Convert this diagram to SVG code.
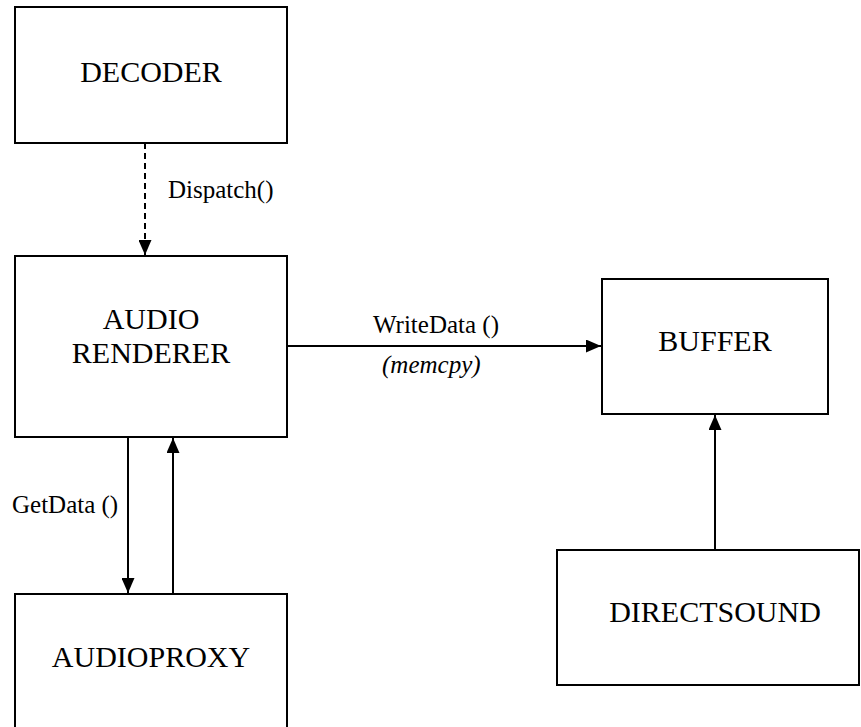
<svg xmlns="http://www.w3.org/2000/svg" width="861" height="727" viewBox="0 0 861 727">
<style>
.box{fill:#fff;stroke:#000;stroke-width:2}
.nt{font-family:"Liberation Serif","Times New Roman",serif;font-size:30px;fill:#000;text-anchor:middle}
.lb{font-family:"Liberation Serif","Times New Roman",serif;font-size:25px;fill:#000}
.ln{fill:none;stroke:#000;stroke-width:2}
</style>
<defs>
<marker id="ah" viewBox="0 0 15 13" refX="15" refY="6.5" markerWidth="15" markerHeight="13" markerUnits="userSpaceOnUse" orient="auto">
<path d="M0,0 L15,6.5 L0,13 Z" fill="#000"/>
</marker>
</defs>
<rect width="861" height="727" fill="#fff"/>
<g id="decoder">
<rect class="box" x="15" y="7" width="272" height="136"/>
<text class="nt" x="151" y="82">DECODER</text>
</g>
<g id="audio-renderer">
<rect class="box" x="15" y="256" width="272" height="181"/>
<text class="nt" x="151" y="329">AUDIO</text>
<text class="nt" x="151" y="363">RENDERER</text>
</g>
<g id="audioproxy">
<rect class="box" x="15" y="594" width="272" height="150"/>
<text class="nt" x="151" y="667">AUDIOPROXY</text>
</g>
<g id="buffer">
<rect class="box" x="602" y="279" width="226" height="135"/>
<text class="nt" x="715" y="351">BUFFER</text>
</g>
<g id="directsound">
<rect class="box" x="557" y="550" width="302" height="135"/>
<text class="nt" x="715" y="622">DIRECTSOUND</text>
</g>
<g id="connectors">
<line class="ln" x1="145" y1="143" x2="145" y2="255" stroke-dasharray="6,4" marker-end="url(#ah)"/>
<line class="ln" x1="128" y1="437" x2="128" y2="593" marker-end="url(#ah)"/>
<line class="ln" x1="173" y1="594" x2="173" y2="438" marker-end="url(#ah)"/>
<line class="ln" x1="287" y1="346" x2="601" y2="346" marker-end="url(#ah)"/>
<line class="ln" x1="715" y1="550" x2="715" y2="415" marker-end="url(#ah)"/>
<text class="lb" x="168" y="198">Dispatch()</text>
<text class="lb" x="12" y="513">GetData ()</text>
<text class="lb" x="373" y="333">WriteData ()</text>
<text class="lb" x="382" y="373" font-style="italic">(memcpy)</text>
</g>
</svg>
